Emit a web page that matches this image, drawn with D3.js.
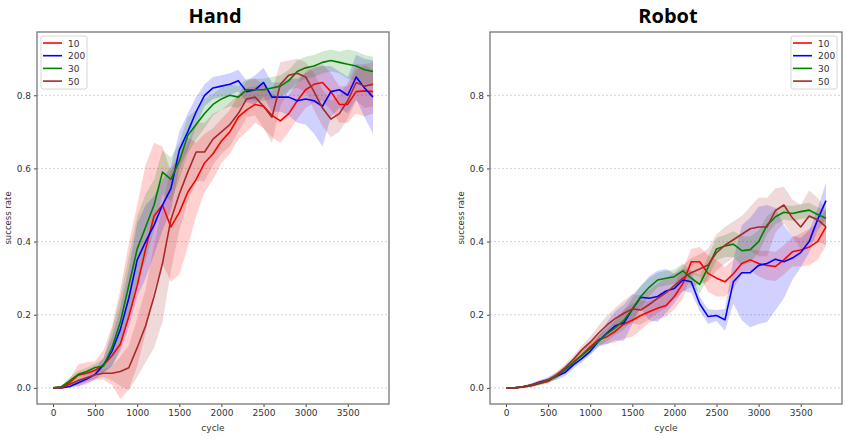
<!DOCTYPE html>
<html>
<head>
<meta charset="utf-8">
<script src="https://cdn.jsdelivr.net/npm/d3@7"></script>
<style>
  body { margin: 0; background: #fff; }
  svg { font-family: "DejaVu Sans", sans-serif; }
</style>
</head>
<body>
<svg id="chart" width="847" height="439"></svg>
<script>
// cycle grid shared by every run
var cycles = [0,100,200,300,400,500,600,700,800,900,1000,1100,1200,1300,1400,1500,1600,1700,1800,1900,
              2000,2100,2200,2300,2400,2500,2600,2700,2800,2900,3000,3100,3200,3300,3400,3500,3600,3700,3800];

var seriesNames = ["10", "200", "30", "50"];
var seriesColors = ["#ff0000", "#0000ff", "#008000", "#a52a2a"];
var yTicks = [0.0, 0.2, 0.4, 0.6, 0.8];
var xTicks = [0, 500, 1000, 1500, 2000, 2500, 3000, 3500];

// Hand - mean success rate
var handRed   = [0,0.003,0.015,0.035,0.04,0.048,0.063,0.088,0.12,0.195,0.28,0.38,0.47,0.50,0.44,0.48,0.535,0.57,0.615,0.64,
                 0.675,0.70,0.74,0.76,0.775,0.77,0.745,0.73,0.75,0.785,0.815,0.83,0.835,0.81,0.775,0.775,0.81,0.812,0.81];
var handBlue  = [0,0,0.004,0.014,0.024,0.037,0.063,0.10,0.16,0.245,0.35,0.40,0.445,0.50,0.545,0.65,0.70,0.755,0.80,0.82,
                 0.825,0.83,0.84,0.81,0.815,0.835,0.795,0.795,0.795,0.785,0.79,0.785,0.77,0.81,0.815,0.80,0.85,0.82,0.795];
var handGreen = [0,0.003,0.02,0.037,0.045,0.056,0.06,0.11,0.18,0.28,0.38,0.44,0.50,0.59,0.57,0.62,0.69,0.72,0.75,0.775,
                 0.79,0.80,0.795,0.815,0.815,0.815,0.82,0.825,0.84,0.865,0.875,0.88,0.89,0.895,0.89,0.885,0.88,0.87,0.865];
var handBrown = [0,0,0.01,0.02,0.028,0.036,0.04,0.04,0.045,0.055,0.11,0.17,0.25,0.34,0.46,0.53,0.59,0.645,0.645,0.68,
                 0.70,0.72,0.75,0.79,0.795,0.77,0.74,0.83,0.855,0.86,0.85,0.81,0.765,0.735,0.75,0.785,0.835,0.825,0.83];

// Hand - spread (half width of the shaded band)
var handRedSd   = [0,0.003,0.01,0.03,0.03,0.025,0.04,0.08,0.15,0.2,0.22,0.23,0.2,0.16,0.15,0.17,0.15,0.1,0.08,0.07,
                   0.06,0.06,0.06,0.06,0.05,0.06,0.06,0.06,0.05,0.05,0.05,0.05,0.05,0.05,0.05,0.05,0.06,0.07,0.06];
var handBlueSd  = [0,0,0.003,0.01,0.01,0.015,0.02,0.04,0.06,0.08,0.1,0.1,0.08,0.07,0.06,0.05,0.05,0.04,0.03,0.03,
                   0.03,0.03,0.03,0.03,0.04,0.04,0.04,0.04,0.05,0.06,0.07,0.09,0.11,0.07,0.05,0.05,0.06,0.08,0.1];
var handGreenSd = [0,0.003,0.01,0.01,0.01,0.01,0.02,0.05,0.07,0.08,0.09,0.09,0.07,0.06,0.06,0.05,0.05,0.04,0.04,0.03,
                   0.03,0.03,0.03,0.03,0.03,0.03,0.03,0.03,0.03,0.03,0.03,0.03,0.03,0.03,0.03,0.04,0.04,0.04,0.04];
var handBrownSd = [0,0,0.005,0.01,0.01,0.01,0.01,0.02,0.04,0.06,0.08,0.1,0.14,0.16,0.14,0.1,0.08,0.08,0.08,0.07,
                   0.06,0.06,0.05,0.05,0.05,0.06,0.07,0.06,0.04,0.04,0.04,0.05,0.05,0.05,0.05,0.05,0.05,0.06,0.06];

// Robot - mean success rate
var robotRed   = [0,0,0.002,0.006,0.012,0.018,0.035,0.05,0.07,0.09,0.112,0.132,0.14,0.155,0.175,0.185,0.198,0.208,0.218,0.225,
                  0.25,0.285,0.345,0.345,0.313,0.30,0.29,0.312,0.34,0.35,0.34,0.335,0.332,0.35,0.372,0.377,0.385,0.40,0.44];
var robotBlue  = [0,0,0.003,0.008,0.016,0.022,0.032,0.042,0.063,0.08,0.10,0.128,0.15,0.17,0.178,0.215,0.248,0.245,0.25,0.265,
                  0.272,0.295,0.29,0.23,0.195,0.198,0.186,0.29,0.315,0.315,0.335,0.34,0.352,0.345,0.355,0.37,0.40,0.46,0.512];
var robotGreen = [0,0,0.003,0.007,0.013,0.02,0.032,0.05,0.07,0.088,0.108,0.128,0.148,0.165,0.185,0.215,0.25,0.275,0.295,0.30,
                  0.304,0.32,0.30,0.283,0.33,0.38,0.388,0.393,0.375,0.378,0.40,0.445,0.468,0.48,0.477,0.482,0.486,0.474,0.464];
var robotBrown = [0,0,0.003,0.008,0.015,0.022,0.035,0.055,0.078,0.104,0.125,0.15,0.172,0.19,0.204,0.216,0.213,0.228,0.245,0.26,
                  0.28,0.30,0.315,0.325,0.336,0.37,0.39,0.405,0.42,0.435,0.44,0.44,0.485,0.50,0.465,0.44,0.47,0.46,0.44];

// Robot - spread
var robotRedSd   = [0,0,0.002,0.004,0.005,0.006,0.008,0.01,0.01,0.01,0.012,0.015,0.02,0.03,0.04,0.045,0.04,0.03,0.03,0.03,
                    0.035,0.04,0.035,0.04,0.05,0.05,0.04,0.04,0.03,0.03,0.035,0.04,0.04,0.04,0.04,0.045,0.05,0.05,0.05];
var robotBlueSd  = [0,0,0.002,0.005,0.005,0.007,0.01,0.01,0.01,0.01,0.01,0.015,0.03,0.04,0.05,0.04,0.03,0.06,0.07,0.06,
                    0.04,0.03,0.03,0.02,0.02,0.015,0.03,0.06,0.13,0.15,0.16,0.16,0.14,0.1,0.06,0.04,0.03,0.03,0.05];
var robotGreenSd = [0,0,0.002,0.004,0.005,0.006,0.008,0.01,0.01,0.012,0.015,0.015,0.02,0.02,0.025,0.03,0.03,0.025,0.02,0.02,
                    0.02,0.02,0.02,0.025,0.03,0.03,0.03,0.035,0.04,0.035,0.03,0.025,0.02,0.02,0.02,0.02,0.02,0.02,0.02];
var robotBrownSd = [0,0,0.002,0.004,0.005,0.006,0.008,0.01,0.01,0.012,0.015,0.02,0.025,0.03,0.035,0.04,0.04,0.04,0.04,0.04,
                    0.035,0.035,0.04,0.04,0.045,0.05,0.05,0.05,0.05,0.06,0.08,0.08,0.06,0.05,0.05,0.06,0.07,0.06,0.05];

var svg = d3.select("#chart");

function setupPanel(title, box, means, sds, legendRight) {

    var g = svg.append("g");

    var xScale = d3.scaleLinear()
        .domain([-190, 3990])
        .range([box.left, box.right]);

    var yScale = d3.scaleLinear()
        .domain([-0.044, 0.973])
        .range([box.bottom, box.top]);

    // dashed horizontal grid
    g.selectAll(".grid")
        .data(yTicks)
        .enter()
        .append("line")
        .attr("x1", box.left)
        .attr("x2", box.right)
        .attr("y1", function(d) { return yScale(d); })
        .attr("y2", function(d) { return yScale(d); })
        .style("stroke", "#c8c8c8")
        .style("stroke-width", 0.8)
        .style("stroke-dasharray", "2,2");

    // shaded bands
    means.forEach(function(m, i) {
        var pts = cycles.map(function(c, k) { return {c: c, m: m[k], s: sds[i][k]}; });
        var area = d3.area()
            .x(function(d) { return xScale(d.c); })
            .y0(function(d) { return yScale(d.m - d.s); })
            .y1(function(d) { return yScale(d.m + d.s); });
        g.append("path")
            .datum(pts)
            .attr("d", area)
            .style("fill", seriesColors[i])
            .style("fill-opacity", 0.18)
            .style("stroke", "none");
    });

    // mean lines
    means.forEach(function(m, i) {
        var line = d3.line()
            .x(function(d, k) { return xScale(cycles[k]); })
            .y(function(d) { return yScale(d); });
        g.append("path")
            .datum(m)
            .attr("d", line)
            .style("fill", "none")
            .style("stroke", seriesColors[i])
            .style("stroke-width", 1.6)
            .style("stroke-linejoin", "round");
    });

    // axes
    var xAxis = g.append("g")
        .attr("transform", `translate(0,${box.bottom})`)
        .call(d3.axisBottom(xScale).tickValues(xTicks).tickSize(3).tickPadding(3)
            .tickFormat(d3.format("d")));
    var yAxis = g.append("g")
        .attr("transform", `translate(${box.left},0)`)
        .call(d3.axisLeft(yScale).tickValues(yTicks).tickSize(3).tickPadding(3)
            .tickFormat(d3.format(".1f")));
    [xAxis, yAxis].forEach(function(a) {
        a.select(".domain").remove();
        a.selectAll("line").style("stroke", "#444");
        a.selectAll("text").style("font-size", "9px").style("fill", "#333")
            .style("font-family", "DejaVu Sans, sans-serif");
    });

    // frame
    g.append("rect")
        .attr("x", box.left)
        .attr("y", box.top)
        .attr("width", box.right - box.left)
        .attr("height", box.bottom - box.top)
        .style("fill", "none")
        .style("stroke", "#777")
        .style("stroke-width", 1.3);

    // title and labels
    g.append("text")
        .attr("x", (box.left + box.right) / 2 + 2)
        .attr("y", 23)
        .attr("text-anchor", "middle")
        .text(title)
        .style("font-family", "Open Sans, sans-serif")
        .style("font-weight", "bold")
        .style("font-size", "20px")
        .style("fill", "#000");

    g.append("text")
        .attr("x", (box.left + box.right) / 2)
        .attr("y", 431)
        .attr("text-anchor", "middle")
        .text("cycle")
        .style("font-size", "9px")
        .style("fill", "#333");

    g.append("text")
        .attr("transform", `translate(${box.left - 26},${(box.top + box.bottom) / 2}) rotate(-90)`)
        .attr("text-anchor", "middle")
        .text("success rate")
        .style("font-size", "8.5px")
        .style("fill", "#333");

    // legend
    var lx = legendRight ? box.right - 51 : box.left + 4;
    var legend = g.append("g").attr("transform", `translate(${lx},36)`);
    legend.append("rect")
        .attr("width", 46)
        .attr("height", 53)
        .attr("rx", 2)
        .style("fill", "#fff")
        .style("fill-opacity", 0.9)
        .style("stroke", "#ccc")
        .style("stroke-width", 0.8);
    seriesNames.forEach(function(name, i) {
        legend.append("line")
            .attr("x1", 2).attr("x2", 21)
            .attr("y1", 7 + i * 12.7).attr("y2", 7 + i * 12.7)
            .style("stroke", seriesColors[i])
            .style("stroke-width", 1.6);
        legend.append("text")
            .attr("x", 27)
            .attr("y", 10.5 + i * 12.7)
            .text(name)
            .style("font-size", "9px")
            .style("fill", "#333");
    });
}

setupPanel("Hand", {left: 37, right: 389, top: 32, bottom: 404},
    [handRed, handBlue, handGreen, handBrown],
    [handRedSd, handBlueSd, handGreenSd, handBrownSd], false);

setupPanel("Robot", {left: 490, right: 842, top: 32, bottom: 404},
    [robotRed, robotBlue, robotGreen, robotBrown],
    [robotRedSd, robotBlueSd, robotGreenSd, robotBrownSd], true);
</script>
</body>
</html>
